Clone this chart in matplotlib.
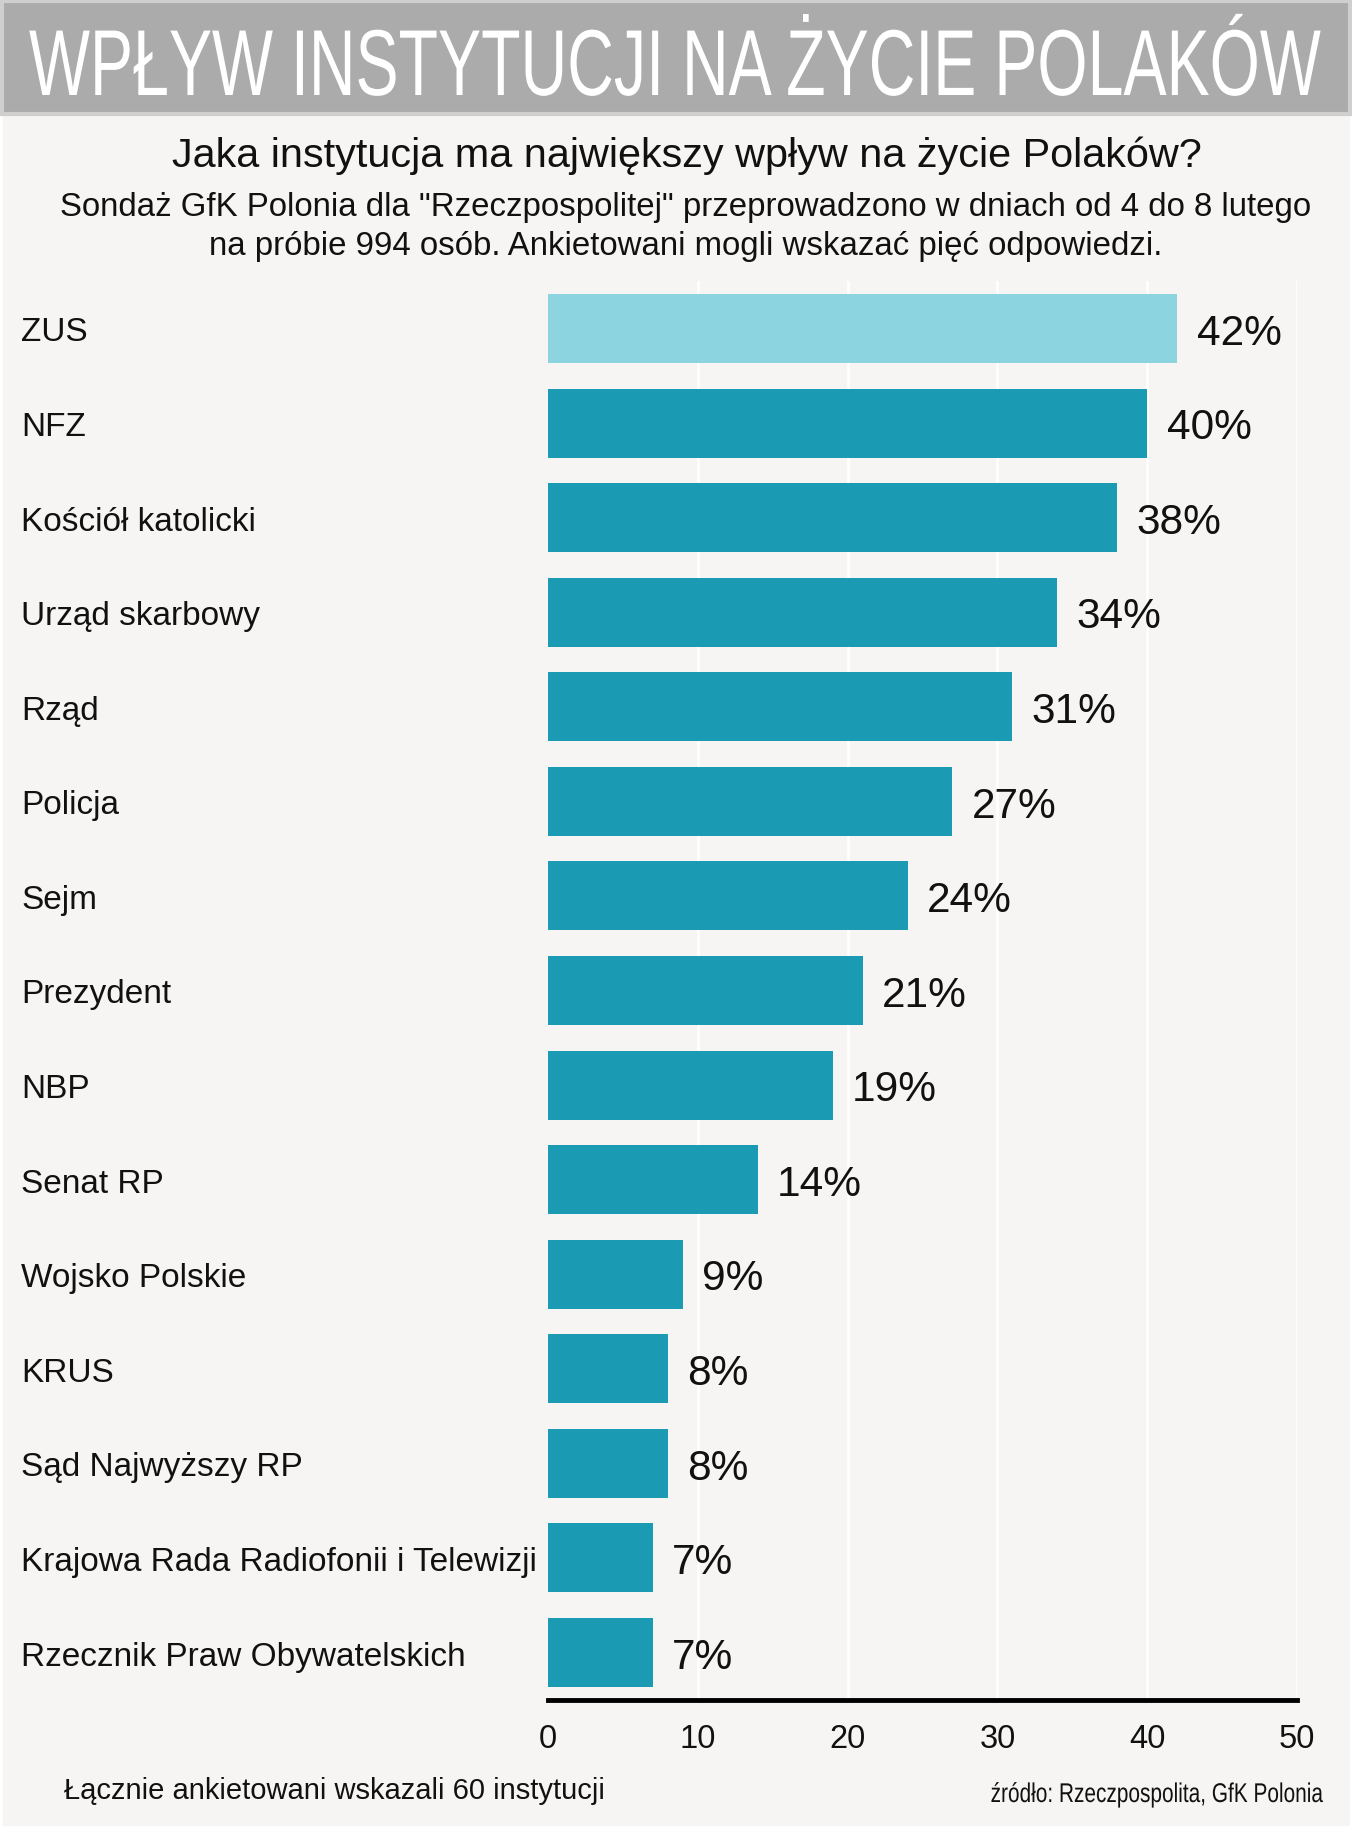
import matplotlib
matplotlib.use('Agg')
import matplotlib.pyplot as plt
import matplotlib.transforms as mtransforms
from matplotlib.patheffects import AbstractPathEffect
from matplotlib.patches import Rectangle

# ── Dane ───────────────────────────────────────────────────
instytucje = ['ZUS', 'NFZ', 'Kościół katolicki', 'Urząd skarbowy', 'Rząd',
              'Policja', 'Sejm', 'Prezydent', 'NBP', 'Senat RP',
              'Wojsko Polskie', 'KRUS', 'Sąd Najwyższy RP',
              'Krajowa Rada Radiofonii i Telewizji',
              'Rzecznik Praw Obywatelskich']
procent = [42, 40, 38, 34, 31, 27, 24, 21, 19, 14, 9, 8, 8, 7, 7]
osie_x = [0, 10, 20, 30, 40, 50]

TYTUL = 'WPŁYW INSTYTUCJI NA ŻYCIE POLAKÓW'
PYTANIE = 'Jaka instytucja ma największy wpływ na życie Polaków?'
OPIS = ('Sondaż GfK Polonia dla "Rzeczpospolitej" przeprowadzono w dniach od 4 do 8 lutego\n'
        'na próbie 994 osób. Ankietowani mogli wskazać pięć odpowiedzi.')
STOPKA = 'Łącznie ankietowani wskazali 60 instytucji'
ZRODLO = 'źródło: Rzeczpospolita, GfK Polonia'

KOLOR = '#1b9bb3'
KOLOR_ZUS = '#8dd4e1'
TLO = '#f6f5f3'

plt.rcParams['font.family'] = ['Liberation Sans', 'DejaVu Sans']


class Rozciagniecie(AbstractPathEffect):
    """Rozciaga tekst w pionie (imitacja kroju waskiego)."""
    def __init__(self, sy):
        super().__init__()
        self.sy = sy

    def draw_path(self, renderer, gc, tpath, affine, rgbFace=None):
        affine = mtransforms.Affine2D().scale(1, self.sy) + affine
        renderer.draw_path(gc, tpath, affine, rgbFace)


W, H = 1352, 1833
fig = plt.figure(figsize=(W / 100, H / 100), dpi=100)
fig.patch.set_facecolor('white')


def fx(px):
    return px / W


def fy(py):
    return 1 - py / H


# tlo i naglowek
fig.add_artist(Rectangle((fx(3), fy(1826)), fx(1346), 1712 / H,
                         transform=fig.transFigure, color=TLO, zorder=0))
fig.add_artist(Rectangle((fx(2), fy(115)), fx(1348), 113 / H,
                         transform=fig.transFigure, facecolor='#ababab',
                         edgecolor='#cfcfcf', linewidth=3, zorder=1))

fig.text(fx(29), fy(96), TYTUL, color='white', fontsize=46.5,
         ha='left', va='baseline', zorder=2,
         path_effects=[Rozciagniecie(1.45)])

fig.text(fx(687), fy(156), PYTANIE, fontsize=29.8, ha='center',
         va='center', color='#111111')
fig.text(fx(686), fy(227), OPIS, fontsize=23.8, ha='center', va='center',
         color='#111111', linespacing=1.3)

# ── Wykres ────────────────────────────────────────────────
ax = fig.add_axes([fx(548), fy(1700.8), fx(1297) - fx(548),
                   (1700.8 - 282.2) / H])
ax.set_facecolor(TLO)
ax.patch.set_alpha(0)

kolory = [KOLOR_ZUS] + [KOLOR] * (len(procent) - 1)
y = list(range(len(instytucje)))
ax.barh(y, procent, height=0.73, color=kolory, zorder=3)
ax.set_xlim(0, 50)
ax.set_ylim(14.5, -0.5)

for v in osie_x[1:]:
    ax.axvline(v, color='white', linewidth=2, zorder=1)

for i, v in enumerate(procent):
    ax.annotate(f'{v}%', (v, i), xytext=(14, -3), textcoords='offset points',
                ha='left', va='center', fontsize=30.5, color='#111111')

ax.set_yticks(y)
ax.set_yticklabels(instytucje, fontsize=24, color='#111111')
ax.tick_params(axis='y', length=0, pad=0)
for lab in ax.get_yticklabels():
    lab.set_horizontalalignment('left')
    lab.set_x(-527 / (1297 - 548))
    lab.set_transform(ax.get_yaxis_transform())

ax.set_xticks(osie_x)
ax.set_xticklabels([str(v) for v in osie_x], fontsize=23.5, color='#111111')
ax.tick_params(axis='x', length=0, pad=17)

for s in ['top', 'right', 'left']:
    ax.spines[s].set_visible(False)
ax.spines['bottom'].set_linewidth(3.5)
ax.spines['bottom'].set_color('black')
ax.spines['bottom'].set_zorder(5)

# ── Stopka ───────────────────────────────────────────────
fig.text(fx(64), fy(1791), STOPKA, fontsize=21, ha='left', va='center',
         color='#111111')
fig.text(fx(1323), fy(1803), ZRODLO, fontsize=15, ha='right',
         va='baseline', color='#111111', path_effects=[Rozciagniecie(1.3)])

plt.savefig('out.png', dpi=100, facecolor=fig.get_facecolor())
plt.close()
